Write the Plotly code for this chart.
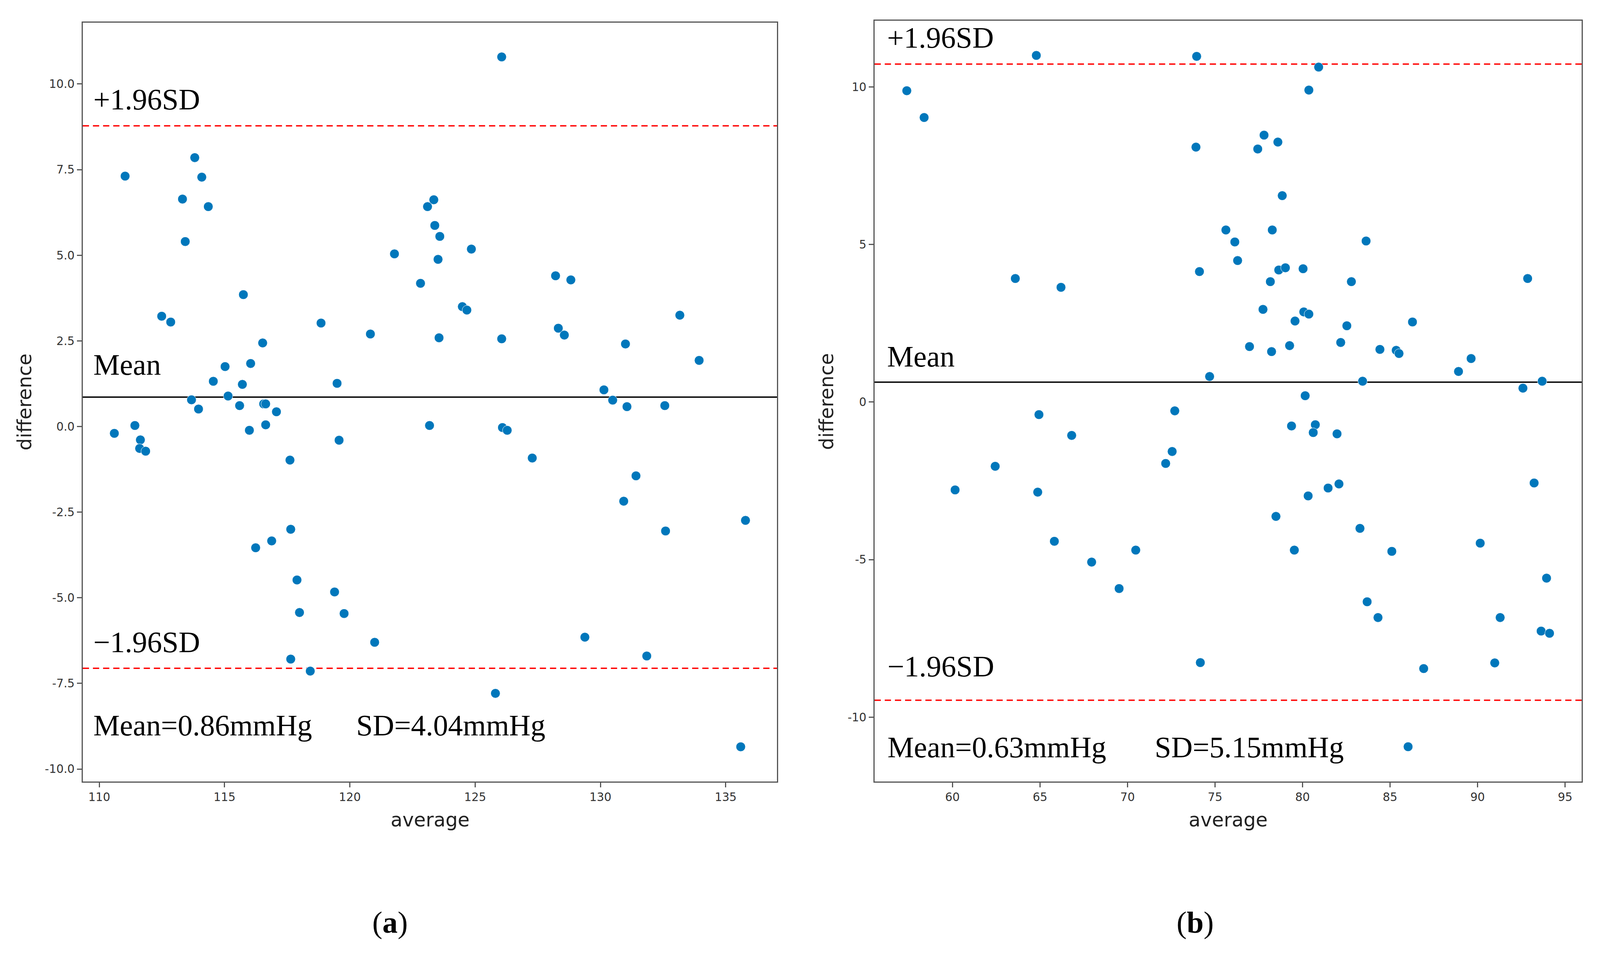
from plotly import graph_objects as go

# panel (a)
avg_a = [111.03, 113.81, 114.09, 113.32, 114.35, 113.43, 115.75, 112.49, 112.85, 118.85,
         120.82, 116.52, 121.78, 122.82, 123.10, 115.02, 116.04, 114.55, 115.71, 119.49,
         126.06, 123.35, 123.39, 123.59, 124.85, 123.52, 128.21, 128.82, 124.49, 124.67,
         133.17, 123.56, 126.06, 128.32, 128.56, 131.00, 133.94, 130.14, 130.49, 113.68,
         113.96, 115.14, 115.60, 116.56, 116.64, 117.07, 116.64, 115.99, 110.60, 111.42,
         111.64, 111.61, 111.85, 119.57, 117.61, 117.64, 116.88, 116.24, 117.89, 119.39,
         117.99, 119.77, 120.99, 117.64, 118.42, 123.18, 126.09, 126.28, 127.28, 132.57,
         131.06, 131.42, 130.93, 132.60, 135.79, 129.38, 131.85, 125.81, 135.60]
diff_a = [7.31, 7.85, 7.28, 6.64, 6.42, 5.40, 3.85, 3.22, 3.05, 3.02,
          2.70, 2.44, 5.04, 4.18, 6.42, 1.75, 1.84, 1.32, 1.23, 1.26,
          10.79, 6.62, 5.87, 5.55, 5.18, 4.88, 4.40, 4.28, 3.50, 3.40,
          3.25, 2.59, 2.56, 2.87, 2.67, 2.41, 1.93, 1.07, 0.77, 0.78,
          0.51, 0.89, 0.61, 0.66, 0.66, 0.43, 0.05, -0.11, -0.20, 0.03,
          -0.39, -0.64, -0.72, -0.40, -0.98, -3.00, -3.34, -3.54, -4.48, -4.83,
          -5.43, -5.46, -6.30, -6.79, -7.14, 0.03, -0.03, -0.11, -0.92, 0.61,
          0.58, -1.44, -2.18, -3.05, -2.74, -6.15, -6.70, -7.79, -9.35]
mean_a = 0.86
sd_a = 4.04

# panel (b)
avg_b = [57.39, 58.38, 64.79, 73.95, 73.91, 63.59, 66.20, 74.11, 74.69, 80.92,
         80.36, 77.80, 77.44, 78.59, 78.84, 75.62, 78.27, 76.13, 83.63, 76.29,
         78.64, 79.02, 80.03, 78.16, 82.79, 92.86, 77.74, 80.07, 80.36, 79.57,
         82.53, 86.28, 76.97, 78.23, 79.26, 82.18, 84.42, 85.35, 85.51, 88.91,
         89.63, 83.43, 92.59, 93.69, 80.15, 64.94, 72.70, 66.81, 72.55, 72.18,
         62.44, 60.15, 64.87, 65.82, 70.47, 67.95, 69.52, 74.16, 79.37, 80.73,
         80.61, 81.97, 81.46, 82.08, 80.32, 93.23, 78.48, 83.28, 79.53, 85.10,
         90.15, 93.94, 83.69, 84.31, 91.29, 93.63, 94.11, 90.98, 86.92, 86.03]
diff_b = [9.88, 9.03, 11.00, 10.97, 8.09, 3.92, 3.64, 4.14, 0.81, 10.63,
          9.90, 8.47, 8.03, 8.25, 6.55, 5.46, 5.46, 5.08, 5.11, 4.49,
          4.19, 4.26, 4.23, 3.82, 3.82, 3.92, 2.94, 2.86, 2.79, 2.57,
          2.42, 2.54, 1.76, 1.60, 1.79, 1.89, 1.67, 1.64, 1.54, 0.97,
          1.38, 0.66, 0.44, 0.66, 0.20, -0.40, -0.28, -1.06, -1.57, -1.95,
          -2.04, -2.79, -2.86, -4.42, -4.70, -5.08, -5.92, -8.27, -0.76, -0.72,
          -0.97, -1.01, -2.73, -2.60, -2.98, -2.57, -3.63, -4.01, -4.70, -4.74,
          -4.48, -5.59, -6.34, -6.84, -6.84, -7.27, -7.34, -8.28, -8.46, -10.94]
mean_b = 0.63
sd_b = 5.15

yticks_a = [-10.0, -7.5, -5.0, -2.5, 0.0, 2.5, 5.0, 7.5, 10.0]
yticklabels_a = ['-10.0', '-7.5', '-5.0', '-2.5', '0.0', '2.5', '5.0', '7.5', '10.0']
yticks_b = [-10, -5, 0, 5, 10]
yticklabels_b = ['-10', '-5', '0', '5', '10']
xticks_a = [110, 115, 120, 125, 130, 135]
xticks_b = [60, 65, 70, 75, 80, 85, 90, 95]

SERIF = 'Liberation Serif'
SANS = 'DejaVu Sans'
DOT = '#0077bb'
S = 0.95  # the page is a bit narrower than the picture, so px sizes are scaled down


def axis_style(domain, rng, tickvals, ticktext=None, anchor=None):
    ax = dict(domain=domain, range=rng, tickvals=tickvals,
              showline=True, mirror=True, linecolor='#555555', linewidth=3,
              ticks='outside', ticklen=12, tickwidth=3, tickcolor='#555555',
              showgrid=False, zeroline=False,
              tickfont=dict(family=SANS, size=31 * S, color='#333333'))
    if ticktext is not None:
        ax['ticktext'] = ticktext
    if anchor is not None:
        ax['anchor'] = anchor
    return ax


def add_panel(fig, avg, diff, mean, sd, xname, yname, labels):
    fig.add_trace(go.Scatter(x=avg, y=diff, mode='markers',
                             xaxis=xname, yaxis=yname,
                             marker=dict(size=24, color=DOT, line=dict(color='white', width=1)),
                             showlegend=False))
    xdom = xname + ' domain'
    # mean line and limits of agreement
    fig.add_shape(type='line', xref=xdom, x0=0, x1=1, yref=yname, y0=mean, y1=mean,
                  line=dict(color='black', width=3.5), layer='below')
    for k in (1.96, -1.96):
        lim = mean + k * sd
        fig.add_shape(type='line', xref=xdom, x0=0, x1=1, yref=yname, y0=lim, y1=lim,
                      line=dict(color='#ff0000', width=3.5, dash='16px,10px'), layer='below')
    for text, xpos, ybase in labels:
        fig.add_annotation(text=text, xref=xdom, yref=yname, x=xpos, y=ybase,
                           xanchor='left', yanchor='bottom', yshift=-17, showarrow=False,
                           font=dict(family=SERIF, size=80 * S, color='black'))


fig = go.Figure()

add_panel(fig, avg_a, diff_a, mean_a, sd_a, 'x', 'y', [
    ('+1.96SD', 0.0143, 9.25),
    ('Mean', 0.0143, 1.50),
    ('\u22121.96SD', 0.0143, -6.60),
    ('Mean=%.2fmmHg' % mean_a, 0.0143, -9.03),
    ('SD=%.2fmmHg' % sd_a, 0.393, -9.03),
])
add_panel(fig, avg_b, diff_b, mean_b, sd_b, 'x2', 'y2', [
    ('+1.96SD', 0.0168, 11.23),
    ('Mean', 0.0168, 1.11),
    ('\u22121.96SD', 0.0169, -8.72),
    ('Mean=%.2fmmHg' % mean_b, 0.0169, -11.29),
    ('SD=%.2fmmHg' % sd_b, 0.395, -11.29),
])

# axis titles and panel captions
for text, x, y, angle in [('average', 0.2678, 0.1391, 0), ('average', 0.7686, 0.1391, 0),
                          ('difference', 0.0134, 0.5795, -90), ('difference', 0.5166, 0.5800, -90)]:
    fig.add_annotation(text=text, xref='paper', yref='paper', x=x, y=y, textangle=angle,
                       xanchor='center', yanchor='middle', showarrow=False,
                       font=dict(family=SANS, size=52 * S, color='#222222'))
for text, x in [('(<b>a</b>)', 0.2428), ('(<b>b</b>)', 0.748)]:
    fig.add_annotation(text=text, xref='paper', yref='paper', x=x, y=0.031,
                       xanchor='center', yanchor='middle', showarrow=False,
                       font=dict(family=SERIF, size=82 * S, color='black'))

fig.update_layout(
    autosize=True,
    margin=dict(l=0, r=0, t=0, b=0),
    paper_bgcolor='white', plot_bgcolor='white',
    xaxis=axis_style([0.04997, 0.4856], [109.34, 137.05], xticks_a, anchor='y'),
    yaxis=axis_style([0.1797, 0.9794], [-10.36, 11.79], yticks_a, yticklabels_a, anchor='x'),
    xaxis2=axis_style([0.5468, 0.9905], [55.55, 95.95], xticks_b, anchor='y2'),
    yaxis2=axis_style([0.1797, 0.9814], [-12.04, 12.10], yticks_b, yticklabels_b, anchor='x2'),
)

# fill the browser window (minus the default 8px body margin)
fig.write_html("out.html", default_width='calc(100vw - 16px)', default_height='calc(100vh - 16px)')
